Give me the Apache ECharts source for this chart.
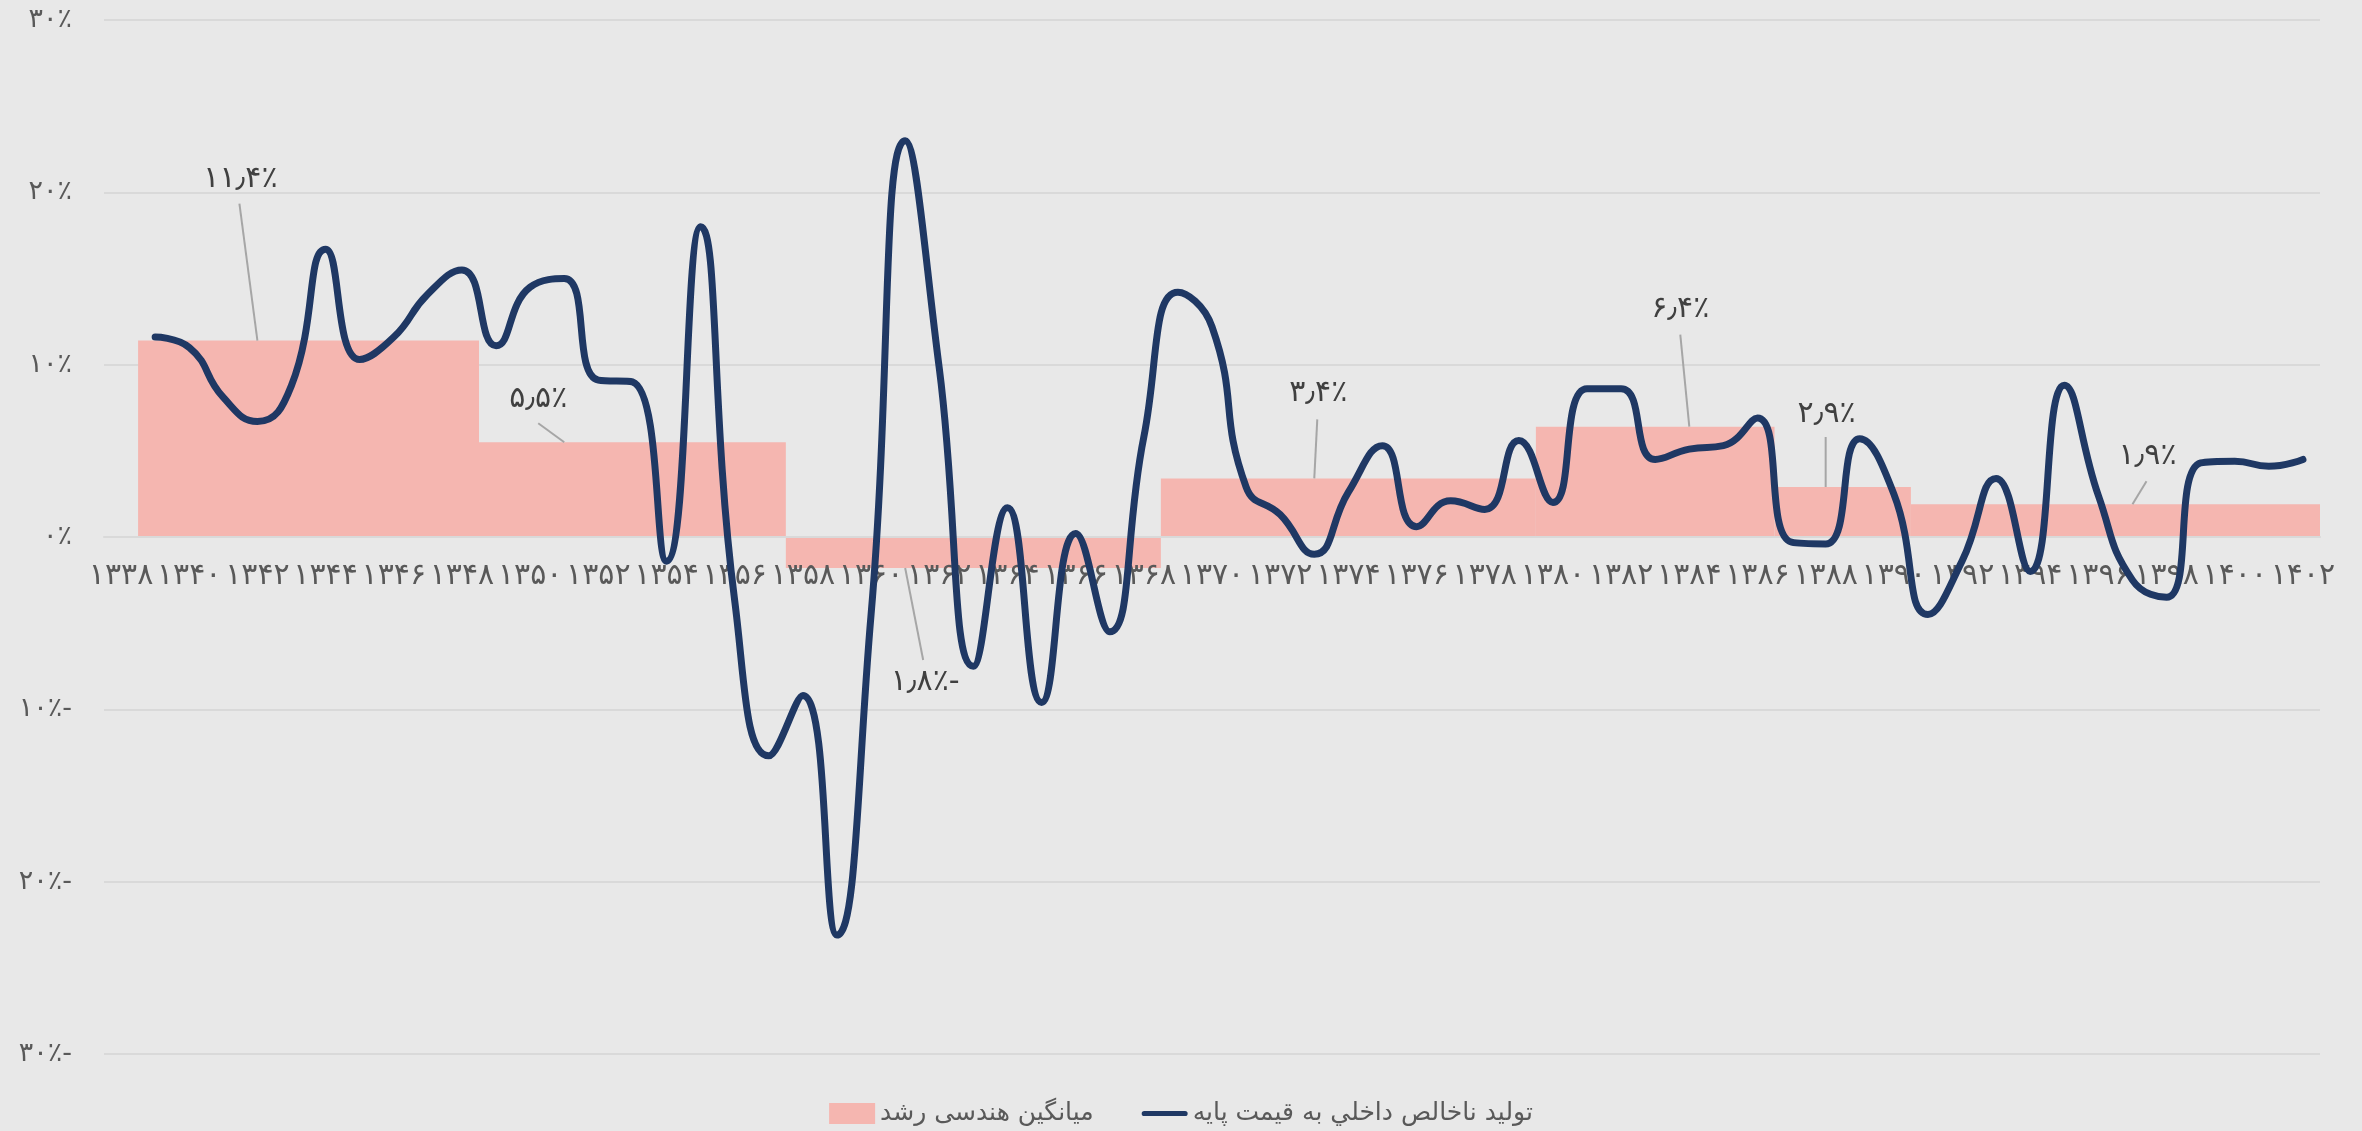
<!DOCTYPE html>
<html>
<head>
<meta charset="utf-8">
<script src="https://cdn.jsdelivr.net/npm/echarts@6.0.0/dist/echarts.min.js"></script>
<style>
    html,body{margin:0;padding:0;background:#e8e8e8;}
    #chart{width:2362px;height:1131px;}
</style>
</head>
<body>
<div id="chart"></div>
<script>
    // سال‌ها
    var years = [];
    for (var y = 1338; y <= 1402; y++) years.push(String(y));

    // رشد تولید ناخالص داخلی (درصد) از ۱۳۳۹ تا ۱۴۰۲
    var gdpGrowth = [
        null,
        11.6, 11.0, 8.1, 6.7, 8.8, 16.7, 10.3, 11.6, 14.1, 15.5,
        11.1, 14.5, 15.0, 9.1, 9.0, -1.4, 18.0, -3.7, -12.7, -9.2,
        -23.1, -4.5, 23.0, 9.8, -7.5, 1.7, -9.6, 0.2, -5.5, 5.8,
        14.2, 12.2, 2.9, 1.3, -1.0, 2.6, 5.3, 0.6, 2.1, 1.6,
        5.6, 2.0, 8.6, 8.6, 4.5, 5.1, 5.3, 6.9, -0.3, -0.4,
        5.7, 2.5, -4.5, -1.4, 3.4, -2.0, 8.8, 2.4, -2.5, -3.5,
        4.3, 4.4, 4.1, 4.5
    ];

    // دوره‌ها و میانگین هندسی رشد
    var periodStart = [1339, 1349, 1358, 1369, 1380, 1387, 1391];
    var periodEnd   = [1348, 1357, 1368, 1379, 1386, 1390, 1402];
    var periodMean  = [11.4, 5.5, -1.8, 3.4, 6.4, 2.9, 1.9];
    var labelYear   = ['1342', '1351', '1361', '1373', '1384', '1388', '1397'];

    var yTicks = [-30, -20, -10, 0, 10, 20, 30];

    // جای برچسب‌ها نسبت به ستون: [dxخط, dyخط, dxمتن, dyمتن]
    var labelOffsets = [
        [-18, -137, -17, -161],
        [-26, -19, -26, -43],
        [18, 92, 20, 114],
        [3, -59, 4, -85],
        [-9, -92, -9, -118],
        [0, -50, 1, -73],
        [14, -23, 15, -48]
    ];

    var faDigits = ['۰','۱','۲','۳','۴','۵','۶','۷','۸','۹'];
    function toFa(s){
        return String(s).replace(/[0-9]/g, function(d){ return faDigits[+d]; }).replace('.', '٫');
    }
    function pct(v){
        var t = toFa(Math.abs(v)) + '٪';
        return v < 0 ? t + '-' : t;
    }

    // هر دوره یک مستطیل: [اندیس شروع, میانگین, اندیس پایان]
    var periodData = periodStart.map(function(s, i){
        return [years.indexOf(String(s)), periodMean[i], years.indexOf(String(periodEnd[i]))];
    });
    var labelData = labelYear.map(function(yr, i){ return [years.indexOf(yr), periodMean[i]]; });

    var FONT = 'DejaVu Sans';
    var PINK = '#f5b6b0';
    var NAVY = '#1f3864';
    var myChart = echarts.init(document.getElementById('chart'));

    var option = {
        animation: false,
        backgroundColor: '#e8e8e8',
        textStyle: { fontFamily: FONT },
        grid: { left: 104, right: 42, top: 20, bottom: 77 },
        legend: {
            top: 1096,
            left: 'center',
            itemWidth: 46,
            itemHeight: 21,
            itemGap: 48,
            symbolKeepAspect: true,
            textStyle: { fontFamily: FONT, fontSize: 25, color: '#595959' },
            data: [
                { name: 'میانگین هندسی رشد', icon: 'rect' },
                { name: 'تولید ناخالص داخلي به قيمت پایه', icon: 'path://M3,0H50A3,3 0 0 1 50,6H3A3,3 0 0 1 3,0Z' }
            ]
        },
        xAxis: {
            type: 'category',
            data: years,
            boundaryGap: true,
            // محور روی خط صفر
            offset: -517,
            z: 2,
            axisTick: { show: false },
            axisLine: { show: true, onZero: false, lineStyle: { color: '#d9d9d9', width: 2 } },
            axisLabel: {
                interval: 1,
                margin: 24,
                fontSize: 30,
                color: '#595959',
                fontFamily: FONT,
                formatter: function(v){ return toFa(v); }
            },
            splitLine: { show: false }
        },
        yAxis: {
            type: 'value',
            min: yTicks[0],
            max: yTicks[yTicks.length - 1],
            interval: 10,
            axisLine: { show: false },
            axisTick: { show: false },
            axisLabel: {
                margin: 32,
                fontSize: 27,
                color: '#595959',
                fontFamily: FONT,
                formatter: function(v){ return v === 0 ? toFa(0) + '٪' : pct(v); }
            },
            splitLine: { show: true, lineStyle: { color: '#d9d9d9', width: 2 } }
        },
        series: [
            {
                name: 'میانگین هندسی رشد',
                type: 'custom',
                itemStyle: { color: PINK },
                encode: { x: [0, 2], y: 1 },
                data: periodData,
                z: 1,
                renderItem: function(params, api){
                    var p0 = api.coord([api.value(0), api.value(1)]);
                    var p1 = api.coord([api.value(2), 0]);
                    var bw = api.size([1, 0])[0];
                    var x0 = p0[0] - bw / 2;
                    var x1 = p1[0] + bw / 2;
                    return {
                        type: 'rect',
                        shape: {
                            x: x0,
                            y: Math.min(p0[1], p1[1]),
                            width: x1 - x0,
                            height: Math.abs(p1[1] - p0[1])
                        },
                        style: { fill: PINK }
                    };
                }
            },
            {
                name: 'تولید ناخالص داخلي به قيمت پایه',
                type: 'line',
                smooth: 0.5,
                symbol: 'none',
                lineStyle: { color: NAVY, width: 7, cap: 'round', join: 'round' },
                itemStyle: { color: NAVY },
                data: gdpGrowth,
                z: 3
            },
            {
                name: 'labels',
                type: 'custom',
                silent: true,
                z: 4,
                data: labelData,
                renderItem: function(params, api){
                    var i = params.dataIndex;
                    var p = api.coord([api.value(0), api.value(1)]);
                    var o = labelOffsets[i];
                    return {
                        type: 'group',
                        children: [
                            {
                                type: 'line',
                                shape: { x1: p[0], y1: p[1], x2: p[0] + o[0], y2: p[1] + o[1] },
                                style: { stroke: '#a6a6a6', lineWidth: 2 }
                            },
                            {
                                type: 'text',
                                x: p[0] + o[2],
                                y: p[1] + o[3],
                                style: {
                                    text: pct(periodMean[i]),
                                    fill: '#404040',
                                    font: '30px "' + FONT + '"',
                                    align: 'center',
                                    verticalAlign: 'middle'
                                }
                            }
                        ]
                    };
                }
            }
        ]
    };

    myChart.setOption(option);
</script>
</body>
</html>
